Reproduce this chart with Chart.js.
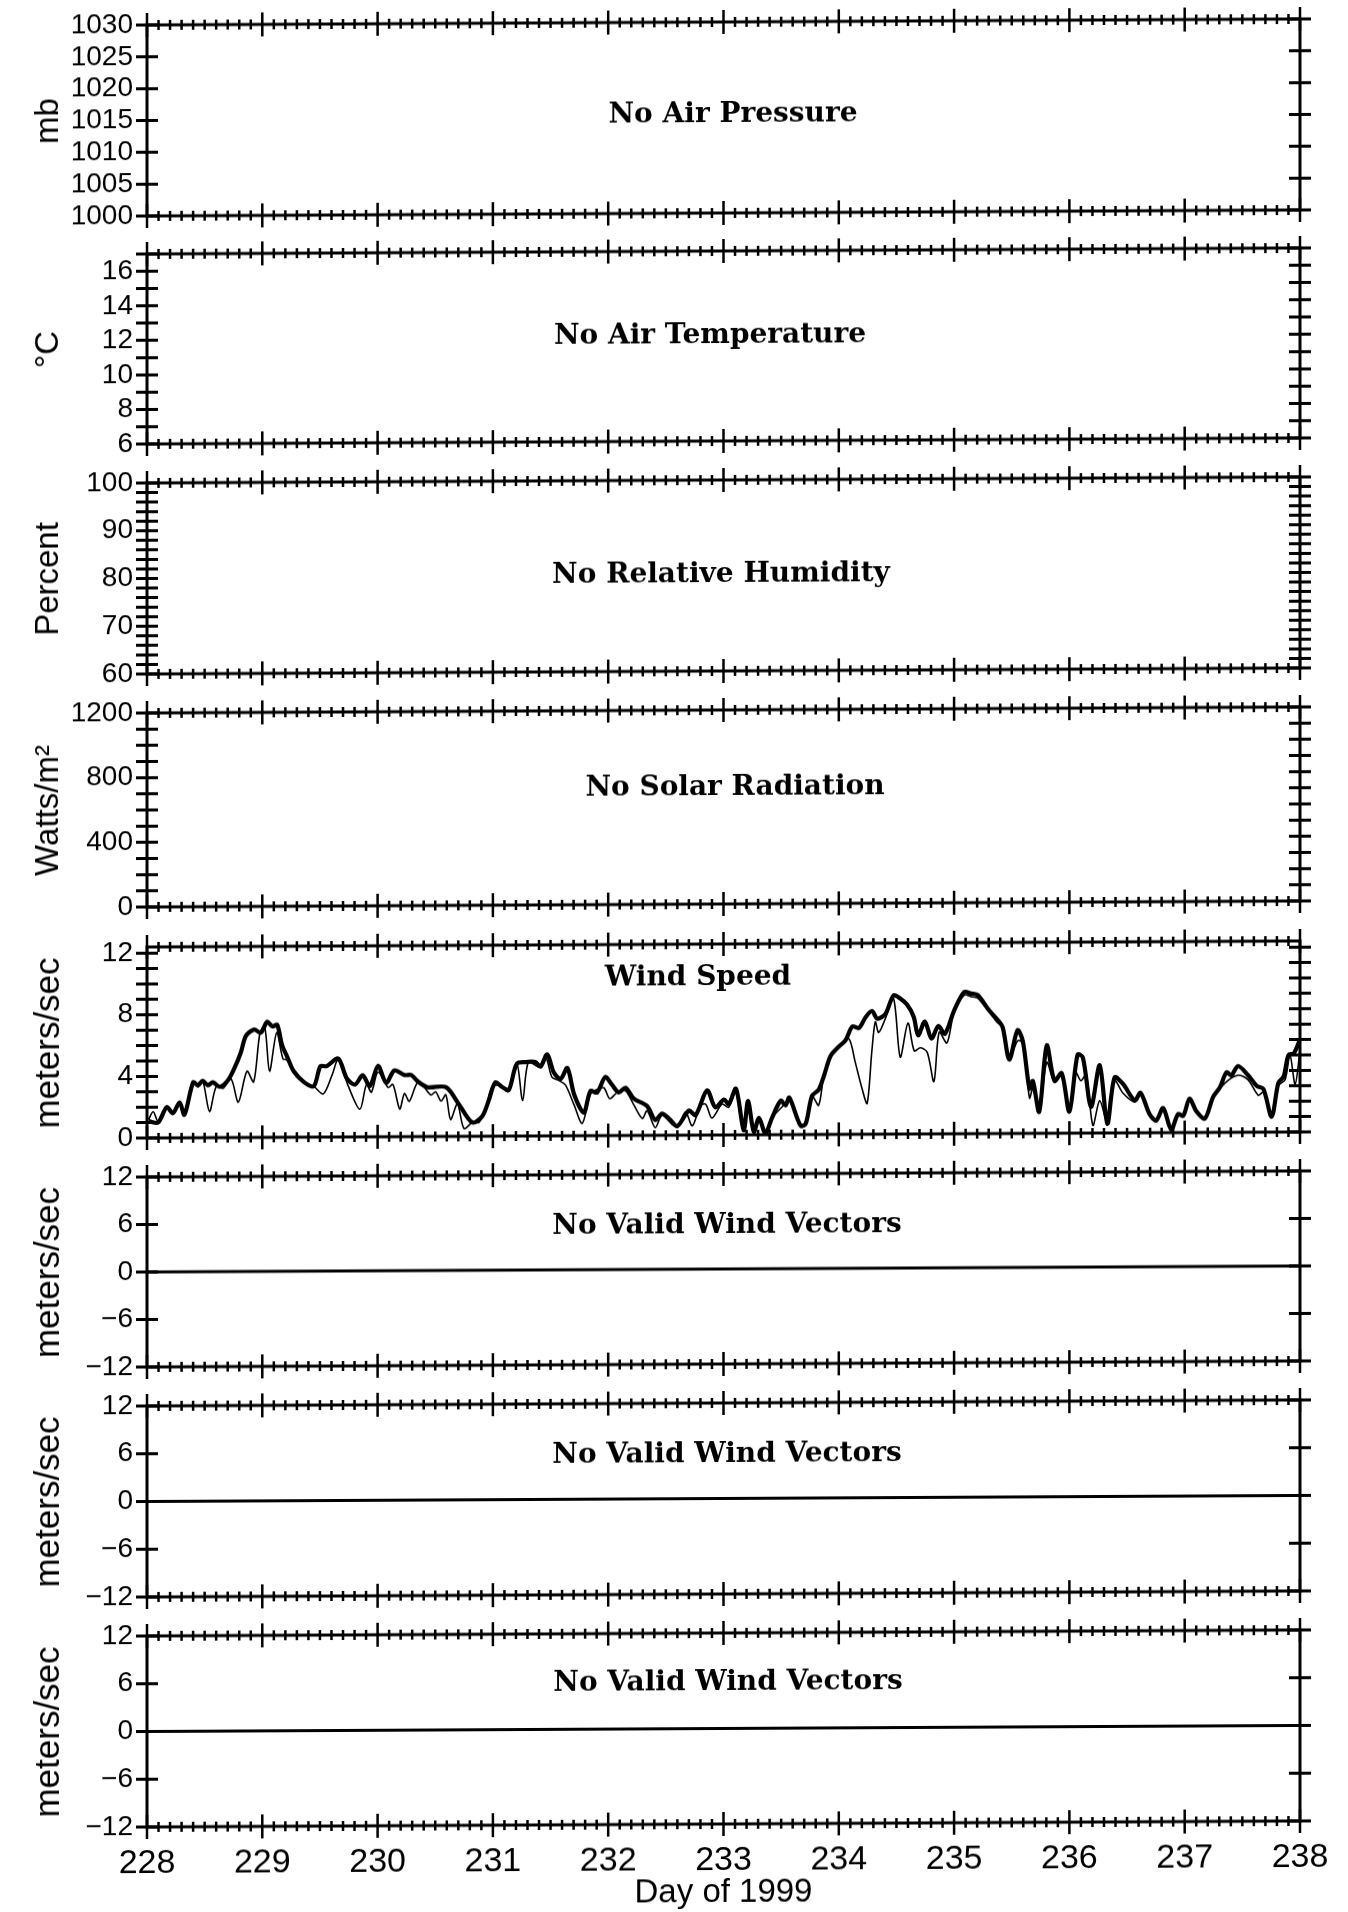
<!DOCTYPE html>
<html>
<head>
<meta charset="utf-8">
<script src="https://cdn.jsdelivr.net/npm/chart.js@4.4.1/dist/chart.umd.min.js"></script>
<style>
  html, body { margin: 0; padding: 0; background: #fff; }
  #page { position: relative; width: 1348px; height: 1912px; overflow: hidden;
          transform: skewY(-0.3deg); transform-origin: 147px 0; }
  #page canvas { position: absolute; left: 0; }
</style>
</head>
<body>
<div id="page"></div>
<script>
// wind speed, scalar mean (thick line)
const speedDays = [
  228.013, 228.096, 228.171, 228.225, 228.283, 228.325, 228.400, 228.442, 228.483, 228.529,
  228.571, 228.629, 228.700, 228.758, 228.813, 228.858, 228.929, 228.988, 229.042, 229.088,
  229.129, 229.171, 229.217, 229.271, 229.358, 229.446, 229.504, 229.558, 229.658, 229.733,
  229.804, 229.871, 229.933, 230.004, 230.075, 230.146, 230.233, 230.292, 230.346, 230.433,
  230.592, 230.704, 230.821, 230.908, 230.963, 231.021, 231.079, 231.138, 231.208, 231.292,
  231.367, 231.413, 231.471, 231.529, 231.588, 231.646, 231.704, 231.788, 231.846, 231.904,
  231.975, 232.033, 232.092, 232.150, 232.221, 232.338, 232.408, 232.467, 232.525, 232.600,
  232.700, 232.758, 232.858, 232.929, 233.004, 233.046, 233.108, 233.175, 233.213, 233.263,
  233.308, 233.363, 233.421, 233.496, 233.538, 233.571, 233.667, 233.713, 233.767, 233.825,
  233.871, 233.929, 234.000, 234.058, 234.117, 234.175, 234.233, 234.288, 234.333, 234.404,
  234.475, 234.533, 234.592, 234.650, 234.688, 234.746, 234.804, 234.863, 234.921, 235.000,
  235.088, 235.146, 235.204, 235.304, 235.375, 235.421, 235.479, 235.550, 235.596, 235.654,
  235.683, 235.738, 235.804, 235.871, 235.933, 236.000, 236.071, 236.117, 236.188, 236.263,
  236.329, 236.392, 236.463, 236.567, 236.617, 236.696, 236.754, 236.813, 236.883, 236.942,
  236.988, 237.042, 237.100, 237.175, 237.246, 237.304, 237.363, 237.404, 237.463, 237.550,
  237.625, 237.683, 237.754, 237.813, 237.858, 237.900, 237.946, 238.000
];
const speedScalar = [
  1.1, 1.0, 2.0, 1.6, 2.3, 1.5, 3.6, 3.4, 3.7, 3.4,
  3.6, 3.3, 3.7, 4.5, 5.5, 6.6, 7.0, 6.8, 7.5, 7.2,
  7.3, 6.0, 5.2, 4.3, 3.6, 3.3, 4.6, 4.6, 5.1, 3.8,
  3.4, 4.0, 3.3, 4.6, 3.5, 4.3, 4.0, 4.0, 3.6, 3.2,
  3.2, 2.1, 0.9, 1.3, 2.3, 3.5, 3.2, 3.0, 4.7, 4.8,
  4.8, 4.5, 5.3, 4.1, 3.7, 4.4, 2.7, 1.5, 2.9, 2.8,
  3.8, 3.3, 2.8, 3.1, 2.4, 1.9, 1.0, 1.4, 1.1, 0.6,
  1.6, 1.3, 2.9, 1.8, 2.3, 2.0, 3.0, 0.3, 2.2, 0.2,
  1.1, 0.1, 1.1, 2.2, 1.9, 2.4, 0.6, 0.7, 2.5, 2.9,
  3.8, 5.1, 5.7, 6.1, 7.0, 6.9, 7.6, 8.0, 7.5, 7.8,
  9.0, 8.8, 8.4, 7.6, 6.4, 7.3, 6.2, 7.0, 6.5, 8.0,
  9.2, 9.1, 9.0, 8.0, 7.4, 6.9, 4.8, 6.7, 6.0, 2.9,
  3.4, 1.4, 5.7, 3.4, 3.9, 1.4, 5.1, 4.9, 1.7, 4.4,
  0.6, 3.6, 3.2, 2.1, 2.6, 1.2, 0.8, 1.6, 0.2, 1.2,
  1.1, 2.2, 1.4, 0.9, 2.3, 2.9, 3.9, 3.7, 4.3, 3.7,
  3.0, 2.8, 1.0, 3.2, 3.6, 5.0, 5.1, 6.0
];

// wind speed, vector mean (thin line)
const vectorDays = [
  228.013, 228.054, 228.096, 228.171, 228.225, 228.283, 228.325, 228.400, 228.442, 228.483,
  228.542, 228.600, 228.658, 228.729, 228.792, 228.867, 228.925, 228.980, 229.021, 229.063,
  229.125, 229.179, 229.217, 229.271, 229.358, 229.446, 229.529, 229.604, 229.658, 229.746,
  229.846, 229.904, 229.946, 230.004, 230.092, 230.133, 230.192, 230.233, 230.275, 230.346,
  230.404, 230.463, 230.504, 230.550, 230.592, 230.633, 230.692, 230.750, 230.821, 230.879,
  230.938, 230.992, 231.050, 231.138, 231.208, 231.258, 231.308, 231.400, 231.458, 231.513,
  231.571, 231.629, 231.704, 231.775, 231.846, 231.904, 231.963, 232.013, 232.079, 232.150,
  232.221, 232.296, 232.338, 232.408, 232.467, 232.554, 232.600, 232.671, 232.729, 232.800,
  232.846, 232.900, 232.988, 233.046, 233.108, 233.175, 233.213, 233.263, 233.308, 233.363,
  233.421, 233.508, 233.571, 233.667, 233.713, 233.767, 233.825, 233.871, 233.942, 234.013,
  234.088, 234.142, 234.204, 234.246, 234.288, 234.317, 234.346, 234.404, 234.475, 234.533,
  234.600, 234.654, 234.708, 234.767, 234.825, 234.871, 234.938, 235.000, 235.088, 235.146,
  235.204, 235.304, 235.375, 235.421, 235.479, 235.550, 235.596, 235.654, 235.683, 235.738,
  235.804, 235.871, 235.933, 236.000, 236.058, 236.100, 236.146, 236.204, 236.263, 236.329,
  236.392, 236.463, 236.567, 236.617, 236.696, 236.754, 236.813, 236.883, 236.942, 236.988,
  237.042, 237.100, 237.175, 237.246, 237.350, 237.463, 237.550, 237.638, 237.683, 237.754,
  237.813, 237.871, 237.913, 237.958, 238.000
];
const speedVector = [
  1.2, 1.7, 1.1, 2.0, 1.6, 2.3, 1.5, 3.6, 3.3, 3.7,
  1.7, 3.3, 3.2, 3.8, 2.3, 4.3, 3.6, 6.8, 7.2, 4.3,
  6.8, 5.1, 5.0, 4.2, 3.6, 3.3, 2.8, 4.0, 5.0, 3.3,
  1.8, 3.4, 2.9, 4.2, 3.2, 3.4, 1.8, 2.8, 2.3, 3.5,
  3.2, 2.7, 2.9, 2.3, 2.7, 1.1, 2.1, 0.5, 0.9, 0.9,
  1.8, 3.2, 3.3, 2.9, 4.7, 2.3, 4.8, 4.5, 5.1, 3.8,
  3.6, 3.3, 2.0, 0.8, 2.7, 3.0, 3.1, 2.4, 2.8, 2.9,
  2.0, 1.1, 1.6, 0.5, 1.3, 0.7, 0.5, 1.5, 0.6, 1.9,
  2.0, 1.1, 2.0, 1.8, 2.9, 0.3, 2.2, 0.2, 1.1, 0.1,
  1.1, 1.8, 2.3, 0.5, 0.6, 2.5, 1.9, 3.8, 5.2, 5.8,
  6.2, 4.7, 2.9, 2.0, 5.5, 7.3, 6.6, 7.5, 8.8, 5.0,
  7.2, 5.4, 5.6, 5.3, 3.4, 6.6, 5.9, 7.9, 9.0, 8.9,
  8.8, 7.9, 7.2, 6.9, 4.8, 6.0, 5.9, 2.3, 2.9, 1.5,
  4.6, 3.3, 3.8, 1.5, 3.9, 3.4, 3.8, 0.5, 2.1, 0.7,
  3.4, 2.6, 2.0, 2.5, 1.1, 0.7, 1.5, 0.2, 1.1, 1.0,
  2.1, 1.3, 0.9, 2.2, 3.2, 3.7, 3.4, 2.4, 2.6, 1.0,
  3.0, 3.4, 5.0, 3.1, 5.3
];

// zero line of the empty wind vector panels
const zeroDays = [228, 238];
const zeroValues = [0, 0];

const dayMin = 228;
const dayMax = 238;

const AXIS_FONT = '"Liberation Sans", Arial, sans-serif';
const TITLE_FONT = '"DejaVu Serif", serif';
const PAD = 20;
const PLOT_LEFT = 147;
const PLOT_RIGHT = 1300;

const panels = [
  { top: 25, bottom: 216, min: 1000, max: 1030, step: 5, every: 5, unit: "mb", unitSize: 33,
    text: "No Air Pressure", cx: 733, cy: 118 },
  { top: 254, bottom: 444, min: 6, max: 17, step: 1, every: 2, unit: "\u00B0C", unitSize: 33,
    text: "No Air Temperature", cx: 710, cy: 339 },
  { top: 483, bottom: 674, min: 60, max: 100, step: 2, every: 10, unit: "Percent", unitSize: 33,
    text: "No Relative Humidity", cx: 721, cy: 578 },
  { top: 713, bottom: 907, min: 0, max: 1200, step: 100, every: 400, unit: "Watts/m\u00B2", unitSize: 33,
    text: "No Solar Radiation", cx: 735, cy: 791 },
  { top: 947, bottom: 1138, min: 0, max: 12.4, step: 1, every: 4, unit: "meters/sec", unitSize: 35,
    text: "Wind Speed", cx: 698, cy: 981, kind: "wind" },
  { top: 1177, bottom: 1367, min: -12, max: 12, step: 6, every: 6, unit: "meters/sec", unitSize: 35,
    text: "No Valid Wind Vectors", cx: 727, cy: 1229, kind: "zero" },
  { top: 1406, bottom: 1597, min: -12, max: 12, step: 6, every: 6, unit: "meters/sec", unitSize: 35,
    text: "No Valid Wind Vectors", cx: 727, cy: 1458, kind: "zero" },
  { top: 1636, bottom: 1827, min: -12, max: 12, step: 6, every: 6, unit: "meters/sec", unitSize: 35,
    text: "No Valid Wind Vectors", cx: 728, cy: 1686, kind: "zero", last: true },
];

function onStep(v, step) {
  const r = v / step;
  return Math.abs(r - Math.round(r)) < 1e-6;
}

function points(xs, ys) {
  return xs.map((x, i) => ({ x: x, y: ys[i] }));
}

// frame with crossing tick marks, and the panel caption
const framePlugin = {
  id: "frame",
  afterDatasetsDraw(chart, args, opts) {
    const { ctx, chartArea: a, scales } = chart;
    const x = scales.x, y = scales.y;
    ctx.save();
    ctx.strokeStyle = "#000";
    ctx.lineWidth = 3;
    ctx.strokeRect(a.left, a.top, a.right - a.left, a.bottom - a.top);
    ctx.beginPath();
    for (const t of y.ticks) {
      const py = y.getPixelForValue(t.value);
      ctx.moveTo(a.left - 11, py);
      ctx.lineTo(a.left + 11, py);
      ctx.moveTo(a.right - 11, py);
      ctx.lineTo(a.right + 11, py);
    }
    ctx.stroke();
    ctx.lineWidth = 2.5;
    ctx.beginPath();
    for (const t of x.ticks) {
      const px = x.getPixelForValue(t.value);
      const h = onStep(t.value, 1) ? 12 : 5;
      ctx.moveTo(px, a.top - h);
      ctx.lineTo(px, a.top + h);
      ctx.moveTo(px, a.bottom - h);
      ctx.lineTo(px, a.bottom + h);
    }
    ctx.stroke();
    ctx.fillStyle = "#000";
    ctx.font = "bold 28px " + TITLE_FONT;
    ctx.textAlign = "center";
    ctx.textBaseline = "middle";
    ctx.fillText(opts.text, opts.cx, opts.cy - opts.canvasTop);
    ctx.restore();
  }
};

const page = document.getElementById("page");

for (const p of panels) {
  const canvasTop = p.top - PAD;
  const canvasBottom = p.last ? 1912 : p.bottom + PAD;
  const canvas = document.createElement("canvas");
  canvas.width = 1348;
  canvas.height = canvasBottom - canvasTop;
  canvas.style.top = canvasTop + "px";
  page.appendChild(canvas);

  const datasets = [];
  if (p.kind === "wind") {
    datasets.push({ data: points(vectorDays, speedVector), borderColor: "#000",
      borderWidth: 1.6, pointRadius: 0, tension: 0.3 });
    datasets.push({ data: points(speedDays, speedScalar), borderColor: "#000",
      borderWidth: 4.2, pointRadius: 0, tension: 0.3 });
  } else if (p.kind === "zero") {
    datasets.push({ data: points(zeroDays, zeroValues), borderColor: "#000",
      borderWidth: 3, pointRadius: 0 });
  }

  new Chart(canvas.getContext("2d"), {
    type: "line",
    data: { datasets: datasets },
    plugins: [framePlugin],
    options: {
      responsive: false,
      animation: false,
      events: [],
      layout: {
        autoPadding: false,
        padding: { top: PAD, bottom: p.last ? 0 : PAD, left: 0, right: 1348 - PLOT_RIGHT }
      },
      plugins: {
        legend: { display: false },
        tooltip: { enabled: false },
        frame: { text: p.text, cx: p.cx, cy: p.cy, canvasTop: canvasTop }
      },
      scales: {
        x: {
          type: "linear",
          min: dayMin,
          max: dayMax,
          grid: { display: false, drawTicks: true, tickLength: 16 },
          border: { display: false },
          ticks: {
            display: !!p.last,
            stepSize: 0.1,
            autoSkip: false,
            maxRotation: 0,
            padding: 0,
            color: "#000",
            font: { family: AXIS_FONT, size: 34 },
            callback: (v) => onStep(v, 1) ? String(Math.round(v)) : ""
          },
          title: {
            display: !!p.last,
            text: "Day of 1999",
            color: "#000",
            font: { family: AXIS_FONT, size: 33, lineHeight: 1.0 },
            padding: { top: 0, bottom: 0 }
          },
          afterFit: (s) => { s.height = p.last ? 1912 - p.bottom : 0; }
        },
        y: {
          type: "linear",
          min: p.min,
          max: p.max,
          grid: { display: false, drawTicks: true, tickLength: 14 },
          border: { display: false },
          ticks: {
            stepSize: p.step,
            includeBounds: false,
            autoSkip: false,
            padding: 0,
            color: "#000",
            font: { family: AXIS_FONT, size: 28 },
            callback: (v) => {
              if (!onStep(v, p.every)) return "";
              const n = Math.round(v);
              return n < 0 ? "\u2212" + Math.abs(n) : String(n);
            }
          },
          title: {
            display: true,
            text: p.unit,
            color: "#000",
            font: { family: AXIS_FONT, size: p.unitSize },
            padding: { top: 49 - p.unitSize * 0.6, bottom: 0 }
          },
          afterFit: (s) => { s.width = PLOT_LEFT; }
        }
      }
    }
  });
}
</script>
</body>
</html>
